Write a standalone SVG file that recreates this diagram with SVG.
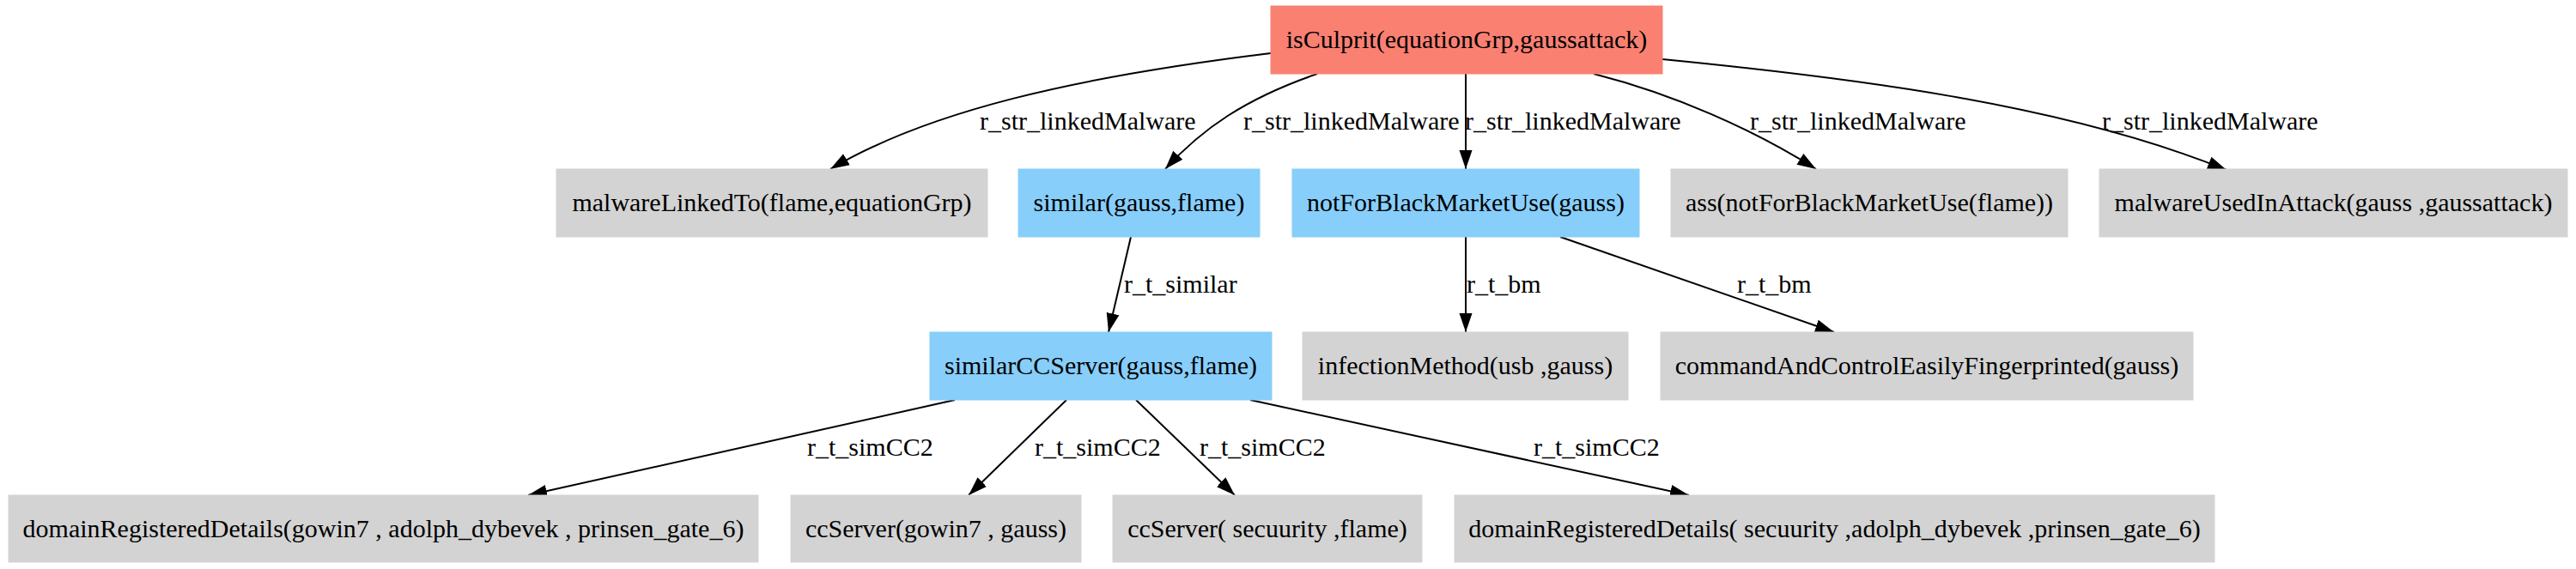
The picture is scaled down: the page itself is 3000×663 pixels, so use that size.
<svg xmlns="http://www.w3.org/2000/svg" width="3000" height="663" viewBox="0 0 3000 663">
<style>
text{font-family:"Liberation Serif","Times New Roman",serif;font-size:30px;fill:#000}
.n text{text-anchor:middle}
.red{fill:#fa8072;stroke:#fa8072}
.blue{fill:#87cefa;stroke:#87cefa}
.gray{fill:#d3d3d3;stroke:#d3d3d3}
.e path{fill:none;stroke:#000;stroke-width:2;marker-end:url(#ah)}
</style>
<defs>
<marker id="ah" markerUnits="userSpaceOnUse" markerWidth="24" markerHeight="16" refX="22" refY="8" orient="auto">
<path d="M0,0.5 L22,8 L0,15.5 z" fill="#000"/>
</marker>
</defs>
<rect width="3000" height="663" fill="#fff"/>
<g class="e" id="edges">
<path d="M1480,62 C1250,90 1080,130 967,197"/>
<path d="M1534,86 C1450,115 1400,150 1357,197"/>
<path d="M1707,86 L1707,197"/>
<path d="M1856,86 C1950,110 2040,150 2115,197"/>
<path d="M1936,69 C2150,90 2400,120 2593,198"/>
<path d="M1317,276 L1291,387"/>
<path d="M1707,276 L1707,387"/>
<path d="M1817,276 L2136,387"/>
<path d="M1112,466 L615,577"/>
<path d="M1242,466 L1128,577"/>
<path d="M1323,466 L1438,577"/>
<path d="M1456,466 L1967,577"/>
<text x="1141" y="151">r_str_linkedMalware</text>
<text x="1448" y="151">r_str_linkedMalware</text>
<text x="1706" y="151">r_str_linkedMalware</text>
<text x="2038" y="151">r_str_linkedMalware</text>
<text x="2448" y="151">r_str_linkedMalware</text>
<text x="1309" y="341">r_t_similar</text>
<text x="1708" y="341">r_t_bm</text>
<text x="2023" y="341">r_t_bm</text>
<text x="940" y="531">r_t_simCC2</text>
<text x="1205" y="531">r_t_simCC2</text>
<text x="1397" y="531">r_t_simCC2</text>
<text x="1786" y="531">r_t_simCC2</text>
</g>
<g class="n" id="n0"><rect class="red" x="1480" y="7" width="456" height="79"/><text x="1708" y="56">isCulprit(equationGrp,gaussattack)</text></g>
<g class="n" id="n1"><rect class="gray" x="648" y="197" width="502" height="79"/><text x="899" y="246">malwareLinkedTo(flame,equationGrp)</text></g>
<g class="n" id="n2"><rect class="blue" x="1186" y="197" width="281" height="79"/><text x="1326.5" y="246">similar(gauss,flame)</text></g>
<g class="n" id="n3"><rect class="blue" x="1505" y="197" width="404" height="79"/><text x="1707" y="246">notForBlackMarketUse(gauss)</text></g>
<g class="n" id="n4"><rect class="gray" x="1946" y="197" width="462" height="79"/><text x="2177" y="246">ass(notForBlackMarketUse(flame))</text></g>
<g class="n" id="n5"><rect class="gray" x="2445" y="197" width="545" height="79"/><text x="2717.5" y="246">malwareUsedInAttack(gauss ,gaussattack)</text></g>
<g class="n" id="n6"><rect class="blue" x="1083" y="387" width="398" height="79"/><text x="1282" y="436">similarCCServer(gauss,flame)</text></g>
<g class="n" id="n7"><rect class="gray" x="1517" y="387" width="379" height="79"/><text x="1706.5" y="436">infectionMethod(usb ,gauss)</text></g>
<g class="n" id="n8"><rect class="gray" x="1934" y="387" width="620" height="79"/><text x="2244" y="436">commandAndControlEasilyFingerprinted(gauss)</text></g>
<g class="n" id="n9"><rect class="gray" x="10" y="577" width="873" height="78"/><text x="446.5" y="626">domainRegisteredDetails(gowin7 , adolph_dybevek , prinsen_gate_6)</text></g>
<g class="n" id="n10"><rect class="gray" x="921" y="577" width="338" height="78"/><text x="1090" y="626">ccServer(gowin7 , gauss)</text></g>
<g class="n" id="n11"><rect class="gray" x="1296" y="577" width="360" height="78"/><text x="1476" y="626">ccServer( secuurity ,flame)</text></g>
<g class="n" id="n12"><rect class="gray" x="1694" y="577" width="885" height="78"/><text x="2136.5" y="626">domainRegisteredDetails( secuurity ,adolph_dybevek ,prinsen_gate_6)</text></g>
</svg>
